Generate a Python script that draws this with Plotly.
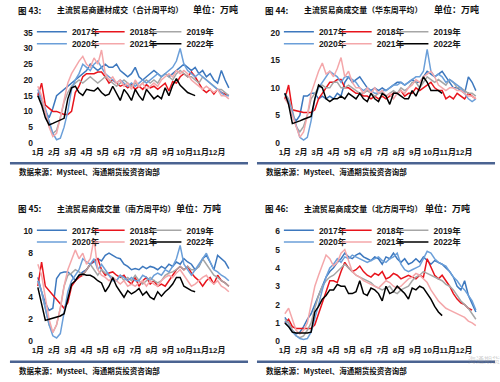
import plotly.graph_objects as go

# ---------------- data (万吨, weekly averages) ----------------
years = ["2017年", "2018年", "2019年", "2020年", "2021年", "2022年"]
month_labels = ["1月", "2月", "3月", "4月", "5月", "6月", "7月", "8月", "9月", "10月", "11月", "12月"]

total_2017 = [16, 13, 10, 8, 11, 15, 16, 17, 18, 19, 20, 21, 22, 23, 25, 24, 23, 24, 25, 24, 24, 25, 23, 22, 21, 22,
              24, 21, 20, 21, 22, 23, 22, 21, 22, 21, 22, 23, 24, 25, 24, 23, 24, 22, 23, 21, 22, 20, 19, 23, 20, 17.5]
total_2018 = [15, 19, 12, 11, 10, 10, 9.5, 9, 9, 10, 16, 18, 21, 22, 22, 22, 22.5, 22.5, 21, 19, 20, 19, 18, 18.5, 17.5,
              18.5, 17, 18, 17, 18.5, 17.5, 18, 17, 18, 19, 16.5, 19.5, 19, 21, 22, 21, 22.5, 21, 19, 17, 16, 17, 15.5,
              17, 16, 15.5, 15]
total_2019 = [15, 13, 10, 6, 3, 4, 8, 13, 16, 18, 19, 20, 19, 20, 21, 20, 19, 20, 21, 20, 19, 18, 19, 20, 19, 18, 19,
              18, 19, 20, 19, 20, 19, 21, 22, 21, 20, 22, 23, 22, 21, 21, 20, 19, 21, 20, 19, 18, 17, 17, 16, 15]
total_2020 = [17, 14, 11, 7, 3, 1, 1.5, 5, 10, 17, 20, 22, 25, 24, 23, 25, 26, 24, 22, 21, 20, 19, 20, 19, 18, 19, 18,
              19, 20, 19, 20, 21, 22, 21, 22, 23, 24, 26, 30, 25, 23, 22, 21, 22, 21, 20, 19, 18, 17, 16, 15, 15]
total_2021 = [18, 15, 10, 5, 2, 3, 8, 14, 19, 22, 24, 26, 27.5, 25, 24, 27, 25, 29.5, 22, 20, 21, 19, 20, 18, 19, 17,
              20, 18, 19, 17, 18, 19, 18, 20, 21, 22, 21, 23, 22, 23, 22, 20, 19, 18, 17, 18, 17, 16, 17, 15, 15, 14]
total_2022 = [15, 12, 8, 5.7, 6.2, 6.8, 7.3, 7.8, 14, 17.5, 18, 16, 15.1, 17, 16.7, 16.5, 17.5, 16, 15, 15.5, 18, 15.5,
              13.5, 17, 15.5, 13.5, 17, 15, 13.5, 17, 15.5, 14, 15, 14, 17.5, 15, 18.3, 20.4, 18.3, 17, 16, 15.5, 15]

east_2017 = [9, 7, 5, 4, 5, 8.5, 8.5, 9, 9, 8, 8.5, 8, 8.5, 8, 9, 8.5, 11, 12, 11, 11.5, 12, 11, 10, 9.5, 10, 9.5, 10,
             9.5, 10, 10.5, 11, 11, 10.5, 11, 11.5, 11, 11, 12, 13, 12.5, 12, 12.5, 13, 12, 11, 10, 10, 9.5, 9, 12, 11, 9.5]
east_2018 = [8, 10.5, 6, 5.8, 5.6, 5.5, 5.5, 5.5, 6, 8, 9, 10, 11, 11, 11.5, 11.5, 10, 10, 9.5, 9, 9, 8.5, 8.5, 8, 8.5,
             8, 8.5, 8, 8.5, 9, 9, 9.5, 8.5, 9, 9, 10, 9.5, 10, 10.5, 11, 10, 9.5, 9.5, 8, 8.5, 8, 9, 8.5, 8, 9, 8.5, 8]
east_2019 = [9, 8, 6, 3, 2, 3, 5, 8, 9, 10, 10.5, 10, 10, 11, 11, 10, 10, 10.5, 10, 9.5, 9, 9, 9.5, 9, 8.5, 9, 9, 8.5, 9,
             9.5, 9, 10, 9.5, 10, 11, 11, 10, 11, 12, 11.5, 11, 11.5, 11, 10.5, 11.5, 11, 10, 10, 9.5, 9, 9, 8.5]
east_2020 = [9, 7.5, 5.5, 3, 1, 0.5, 1, 4, 8, 10, 11, 12, 13, 12.5, 12, 11, 12, 12, 11.5, 11, 10, 9.5, 10, 9.5, 9, 9,
             9.5, 9.5, 10, 10.5, 10.5, 11, 10.5, 11, 11.5, 12, 12, 13, 17, 13, 12, 12.5, 12, 11, 11.5, 11, 10.5, 10, 9,
             8, 7.5, 8]
east_2021 = [8, 7, 5, 3, 1, 2, 5, 9, 11, 13, 14.5, 12.5, 13, 12, 13.5, 15.5, 12, 13, 11, 10, 10, 9, 10, 9, 10, 9, 9.5,
             8.5, 9, 8, 9, 9.5, 9, 10, 10.5, 11.5, 11, 12, 12.5, 13, 12, 10.5, 10, 9.5, 10, 10, 9.5, 9.5, 9, 8.5, 8.5, 8]
east_2022 = [9, 7, 3.5, 3.7, 4, 4.3, 4.5, 4.8, 8, 10.5, 10, 8, 7.5, 8, 8, 8.5, 8, 9, 8.5, 8, 9, 8, 7.5, 9, 8, 7.5, 9,
             8.5, 7, 9, 9, 8.5, 8, 8, 9.5, 8.5, 10, 12, 11, 9.5, 9.5, 9.5, 9]

south_2017 = [5.8, 4.5, 3.5, 2.8, 3, 5.7, 6.2, 6.3, 6.3, 6, 5.5, 6, 6.3, 6.5, 7, 7.2, 7.5, 7.3, 7.8, 8, 7.8, 7.6, 7.5,
              7, 6.8, 6.5, 6.6, 6.5, 6.8, 6.6, 6.8, 6.7, 6.5, 6.8, 6.6, 7, 6.8, 7.2, 7, 7.5, 7.2, 7, 6.5, 6.8, 7.5, 7.8,
              7.2, 6.5, 7.8, 7.5, 7.2, 6.6]
south_2018 = [5, 7.2, 5, 4.6, 4.2, 3.8, 3.4, 3, 3.5, 5, 5.5, 5.8, 6, 6.5, 7, 7.3, 7.5, 6.5, 6, 6.2, 6.3, 6, 5.8, 6, 5.5,
              5.2, 5.8, 5, 5.5, 5.8, 5.2, 5.5, 5, 5.2, 5, 5.5, 6, 6.5, 6.8, 6.5, 6.8, 6.2, 5.8, 5.5, 5, 5.5, 5.8, 5.2, 6,
              5.5, 5.3, 5]
south_2019 = [5.5, 4.5, 3, 1.5, 0.8, 1.5, 3, 5, 6, 6.2, 6.5, 6.3, 6, 6.5, 7, 6.5, 6, 6.5, 6.2, 6, 5.8, 5.5, 6, 5.5, 5.8,
              5.5, 6, 5.5, 5.2, 5.5, 5.8, 5.5, 5.3, 5.5, 6, 6.2, 6.3, 6.5, 6.8, 6.5, 6.8, 6.5, 6.5, 6.8, 7.5, 7, 6.5, 6,
              5.8, 5.5, 5.3, 5]
south_2020 = [5.5, 4.5, 3, 1.5, 0.5, 0.3, 0.7, 2.5, 4.5, 5.5, 6, 6.5, 7.5, 7.2, 7, 7.5, 6.5, 7, 6.5, 6, 5.5, 5.5, 6, 5.8,
              5.5, 5.8, 5.5, 5.5, 6, 5.8, 5.5, 6, 6.2, 6, 6.5, 6.3, 6.8, 7.5, 8.7, 7, 6.5, 6, 6.5, 7, 7.5, 8, 7.2, 6.5,
              6.3, 6, 5.8, 5.5]
south_2021 = [7, 6, 4, 2, 0.8, 1.5, 3, 5, 6.5, 7.5, 8.3, 7.5, 8, 7, 7.5, 9.3, 6.5, 6, 5.8, 5.5, 5.8, 5.5, 5.2, 5.5, 5,
              5.2, 5, 5.3, 5.5, 5, 5.5, 5.2, 5, 5.5, 5.8, 6, 5.8, 6.2, 6.5, 6, 5.5, 5, 5.2, 5.5, 5.8, 6, 5.5, 5.2, 5.5, 5,
              4.8, 4.5]
south_2022 = [4.9, 3.5, 1.9, 2, 2.1, 2.2, 2.3, 2.5, 4, 5.2, 5.5, 6, 6.1, 6, 6, 5.8, 5.5, 5.3, 4.5, 5, 5.8, 5, 4.5, 4,
              4.6, 4.3, 4.5, 4.8, 4.2, 4.5, 4, 3.8, 4.5, 4.1, 4.5, 4.8, 5.2, 5.8, 5.8, 5, 4.8, 4.6, 4.5]

north_2017 = [1.3, 1, 0.6, 0.4, 0.5, 0.8, 1.2, 1.5, 2, 2.5, 3, 3.5, 3.8, 4, 4.3, 4.5, 4.8, 4.6, 4.5, 4.7, 4.8, 4.6, 4.5,
              4.4, 4.6, 4.5, 4.2, 4.6, 4.5, 4.8, 4.5, 4.3, 4.5, 4.2, 4.3, 4.5, 4.3, 4.6, 4.4, 4.2, 4.4, 4.3, 4.2, 4, 3.8,
              3.5, 3, 2.8, 3.3, 2.5, 2, 1.6]
north_2018 = [1, 1.2, 0.8, 0.7, 0.7, 0.7, 0.7, 0.7, 0.9, 1.5, 2.2, 2.8, 3.3, 3.3, 3.2, 3.8, 4.3, 4, 3.8, 3.9, 4.1, 3.8,
              3.6, 3.5, 3.7, 3.6, 3.8, 3.4, 3.5, 3.7, 3.6, 3.4, 3.5, 3.6, 3.5, 3.4, 3.6, 3.5, 4.5, 4, 3.6, 3.4, 3.6, 3.3,
              3, 2.6, 2.3, 2.1, 2, 1.8, 1.7]
north_2019 = [1.2, 1, 0.6, 0.3, 0.2, 0.3, 0.6, 1, 1.8, 2.5, 3, 3.3, 3.5, 3.6, 3.8, 4, 4.2, 4, 3.8, 3.6, 3.5, 3.4, 3.3,
              3.2, 3, 2.9, 2.8, 2.9, 3, 2.7, 2.6, 2.8, 2.9, 3, 3.3, 3.5, 3.6, 3.8, 3.7, 3.6, 3.5, 3.4, 3.3, 3.1, 3, 2.8,
              2.5, 2.2, 2, 1.8, 1.5, 1.2]
north_2020 = [1.1, 0.8, 0.5, 0.3, 0.15, 0.1, 0.15, 0.5, 1.2, 2, 2.8, 3.5, 4, 4.2, 4.5, 4.3, 4.6, 4.5, 4.7, 4.6, 4.5, 4.4,
              4.3, 4.4, 4.5, 4.6, 4.4, 4.3, 4.5, 4.6, 4.8, 4.2, 3.9, 3.8, 3.9, 4, 4.1, 4.5, 4.9, 4.8, 4.5, 4.3, 4.2, 4.1,
              3.8, 3.5, 3.3, 3, 2.8, 2.5, 2.2, 1.7]
north_2021 = [1.5, 1.8, 1.2, 0.6, 0.4, 0.6, 1, 2, 3, 3.6, 4.2, 4.7, 4.5, 4.1, 4.3, 4.8, 5, 4.4, 3.8, 3.6, 3.5, 3.3, 3.2,
              3.1, 3, 2.9, 3.1, 3.3, 3.2, 3, 2.9, 3, 3.2, 3.4, 3.5, 3.7, 3.6, 3.4, 3.2, 2.8, 2.5, 2.2, 2, 1.8, 1.7, 1.6,
              1.5, 1.4, 1.3, 1.1, 1, 0.85]
north_2022 = [1, 0.8, 0.5, 0.45, 0.45, 0.45, 0.45, 0.5, 1.6, 1.9, 2.3, 2.5, 2.8, 2.8, 3.1, 3, 3, 2.6, 2.6, 2.7, 3.3, 2.6,
              2.5, 2.9, 2.8, 2.6, 2.2, 3, 2.6, 2.7, 3, 2.8, 2.6, 2.3, 2.9, 2.8, 3, 2.9, 2.6, 2.3, 1.9, 1.6, 1.4]

# ---------------- styling / layout helpers ----------------
W, H = 500, 382
colors = ["#3D78BE", "#E8141C", "#A6A6A6", "#6B9FD9", "#F4A7AA", "#000000"]
WEEKS_PER_MONTH = 4.35
PX_PER_WEEK = 3.76
FONT = "Liberation Sans, Noto Sans CJK SC, sans-serif"
CJK = "Noto Sans CJK SC, sans-serif"

panels = [
    dict(no="图 43:", title="主流贸易商建材成交（合计周平均）", unit_x=190, ox=0, oy=0, ymax=35, dtick=5,
         series=[total_2017, total_2018, total_2019, total_2020, total_2021, total_2022]),
    dict(no="图 44:", title="主流贸易商成交量（华东周平均）", unit_x=432, ox=248, oy=0, ymax=20, dtick=5,
         series=[east_2017, east_2018, east_2019, east_2020, east_2021, east_2022]),
    dict(no="图 45:", title="主流贸易商成交量（南方周平均）", unit_x=173, ox=0, oy=200, ymax=10, dtick=2,
         series=[south_2017, south_2018, south_2019, south_2020, south_2021, south_2022]),
    dict(no="图 46:", title="主流贸易商成交量（北方周平均）", unit_x=423, ox=248, oy=200, ymax=6, dtick=1,
         series=[north_2017, north_2018, north_2019, north_2020, north_2021, north_2022]),
]

# legend text start (px, relative to panel) for the three columns; two rows
LEG_TEXT_X = [70, 128, 185]
LEG_ROW_Y = [31, 43]


def fx(px):
    return px / W


def fy(py):
    return 1 - py / H


fig = go.Figure()
layout = dict(width=W, height=H, margin=dict(l=0, r=0, t=0, b=0), showlegend=True,
              paper_bgcolor="white", plot_bgcolor="white", font=dict(family=FONT, color="#1a1a1a"))
annotations = []
shapes = []

tickvals = [1 + WEEKS_PER_MONTH * i for i in range(12)]
legend_count = 0

for i, p in enumerate(panels):
    k = i + 1
    xa = "xaxis" if k == 1 else f"xaxis{k}"
    ya = "yaxis" if k == 1 else f"yaxis{k}"
    xr = "x" if k == 1 else f"x{k}"
    yr = "y" if k == 1 else f"y{k}"
    ox, oy = p["ox"], p["oy"]

    # pixel geometry of the plot area
    left_px, right_px = 32 + ox, 245 + ox
    top_px, bot_px = 28 + oy, 146 + oy
    week1_px = 36 + ox
    zero_py, top_tick_py = 143 + oy, 32 + oy
    ppu = (zero_py - top_tick_py) / p["ymax"]

    x0 = 1 - (week1_px - left_px) / PX_PER_WEEK
    x1 = x0 + (right_px - left_px) / PX_PER_WEEK
    y0 = -(bot_px - zero_py) / ppu
    y1 = p["ymax"] + (top_tick_py - top_px) / ppu

    layout[xa] = dict(domain=[fx(left_px), fx(right_px)], range=[x0, x1], anchor=yr,
                      tickmode="array", tickvals=tickvals, ticktext=month_labels,
                      showgrid=False, zeroline=False, showline=False, ticks="",
                      tickfont=dict(size=8, family=FONT, weight="bold"), tickangle=0)
    layout[ya] = dict(domain=[fy(bot_px), fy(top_px)], range=[y0, y1], anchor=xr,
                      tickmode="linear", tick0=0, dtick=p["dtick"],
                      showgrid=False, zeroline=False, showline=False, ticks="",
                      tickfont=dict(size=8.5, family=FONT, weight="bold"))

    for j, (name, vals) in enumerate(zip(years, p["series"])):
        legend_count += 1
        lg = "legend" if legend_count == 1 else f"legend{legend_count}"
        col, row = j % 3, j // 3
        layout[lg] = dict(x=fx(LEG_TEXT_X[col] - 40 + ox), y=fy(LEG_ROW_Y[row] + oy),
                          xanchor="left", yanchor="middle", orientation="h",
                          bgcolor="rgba(0,0,0,0)", borderwidth=0,
                          font=dict(size=8.5, family=FONT, weight="bold", color="#1a1a1a"),
                          itemclick=False, itemdoubleclick=False)
        weeks = list(range(1, len(vals) + 1))
        fig.add_trace(go.Scatter(
            x=weeks, y=vals, mode="lines", name=name,
            line=dict(color=colors[j], width=1.5),
            xaxis=xr, yaxis=yr, legend=lg, hoverinfo="skip"))

    # title row
    ty = fy(9 + oy)
    annotations.append(dict(text=p["no"], x=fx(14 + ox), y=ty, xref="paper", yref="paper",
                            xanchor="left", yanchor="middle", showarrow=False,
                            font=dict(size=8.5, family=CJK, weight="bold", color="#111")))
    annotations.append(dict(text=p["title"], x=fx(53 + ox), y=ty, xref="paper", yref="paper",
                            xanchor="left", yanchor="middle", showarrow=False,
                            font=dict(size=7.9, family=CJK, weight="bold", color="#111")))
    annotations.append(dict(text="单位：万吨", x=fx(p["unit_x"]), y=ty, xref="paper", yref="paper",
                            xanchor="left", yanchor="middle", showarrow=False,
                            font=dict(size=9, family=CJK, weight="bold", color="#111")))
    # bottom rule and source
    shapes.append(dict(type="line", xref="paper", yref="paper", x0=fx(8 + ox), x1=fx(247 + ox),
                       y0=fy(163.5 + oy), y1=fy(163.5 + oy), line=dict(color="#4A6391", width=2.5)))
    annotations.append(dict(text="数据来源：Mysteel、海通期货投资咨询部", x=fx(15 + ox), y=fy(172 + oy),
                            xref="paper", yref="paper", xanchor="left", yanchor="middle", showarrow=False,
                            font=dict(size=7.5, family=CJK, weight="bold", color="#111")))

# faint watermark, nudged clear of the bottom-right tick labels
annotations.append(dict(text="海通期货", x=fx(484), y=fy(361), xref="paper", yref="paper",
                        xanchor="center", yanchor="middle", showarrow=False,
                        font=dict(size=8, family=CJK, color="rgba(140,140,140,0.4)")))

layout["annotations"] = annotations
layout["shapes"] = shapes
fig.update_layout(**layout)
fig.write_html("out.html", config={"displayModeBar": False},
               post_script="document.body.style.margin='0';document.body.style.overflow='hidden';")
